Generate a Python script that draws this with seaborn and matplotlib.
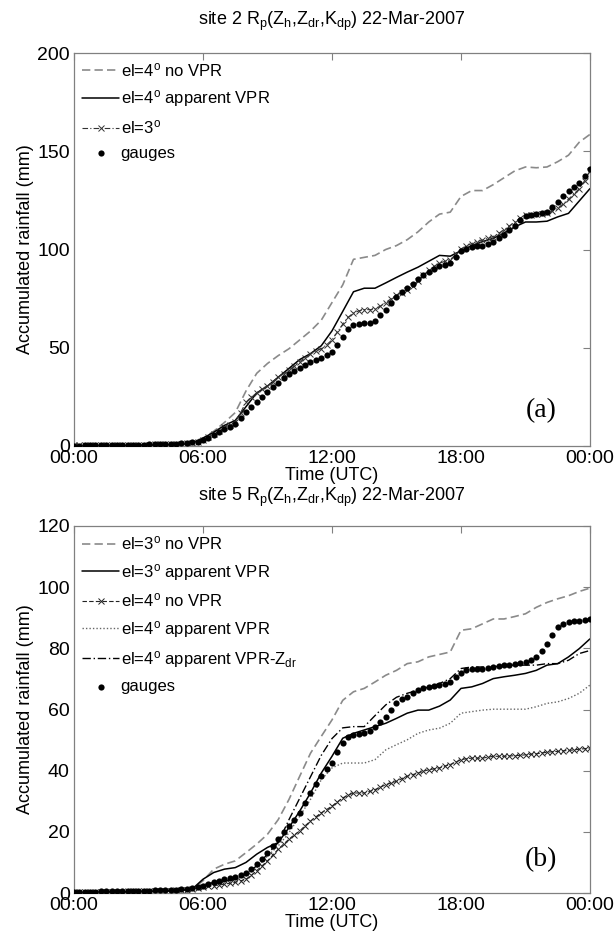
import numpy as np
import pandas as pd
import matplotlib
matplotlib.use('Agg')
import matplotlib.pyplot as plt
import seaborn as sns

# ── data (mm accumulated) ───────────────────────────────────
# lines sampled every 30 min, gauges and marker series every 15 min
t30 = np.arange(0, 24.01, 0.5)
t15 = np.arange(0, 24.01, 0.25)

# site 2
s2_novpr4 = [0.2, 0.2, 0.2, 0.3, 0.3, 0.3, 0.4, 0.5, 0.7, 0.9, 1.3, 2.2,
             4.0, 7.5, 12.0, 17.0, 28.0, 37.0, 42.0, 46.0, 49.5, 54.0, 58.5, 64.0,
             73.0, 82.0, 95.0, 96.0, 97.0, 100.0, 102.0, 105.0, 109.0, 114.0, 118.0, 119.0,
             127.0, 130.0, 130.0, 133.0, 136.5, 140.0, 142.0, 141.6, 142.0, 144.7, 148.0, 154.6,
             158.6]
s2_avpr4 = [0.2, 0.2, 0.2, 0.2, 0.3, 0.3, 0.3, 0.4, 0.5, 0.6, 0.8, 1.5,
            4.0, 7.0, 10.5, 13.0, 20.0, 27.0, 30.5, 35.0, 39.5, 44.0, 47.0, 51.0,
            58.6, 68.5, 78.5, 80.3, 80.3, 83.0, 85.8, 88.5, 91.0, 94.0, 97.0, 96.6,
            99.4, 102.0, 104.0, 105.7, 108.4, 111.5, 114.0, 114.0, 114.4, 116.6, 118.4, 124.7,
            131.0]
s2_el3 = [0.3, 0.3, 0.3, 0.3, 0.4, 0.4, 0.4, 0.4, 0.5, 0.5, 0.5, 0.5,
          0.6, 0.6, 0.7, 0.8, 0.9, 1.0, 1.0, 1.1, 1.2, 1.4, 1.7, 2.2,
          3.0, 4.5, 6.0, 7.5, 9.5, 10.8, 12.3, 17.0,
          22.3, 25.0, 27.0, 28.8, 30.5, 32.8, 35.0, 36.8,
          38.6, 40.8, 43.0, 45.0, 47.0, 48.3, 49.5, 51.5,
          54.0, 58.0, 62.0, 65.5, 67.6, 68.8, 69.4, 69.4,
          69.5, 71.2, 73.0, 75.0, 76.7, 78.0, 79.4, 81.6,
          84.0, 86.8, 89.4, 91.4, 93.0, 94.0, 94.8, 97.5,
          100.3, 101.8, 103.0, 104.0, 104.8, 105.7, 106.6, 108.2,
          110.0, 112.0, 114.0, 116.0, 117.5, 117.8, 118.0, 118.2,
          118.4, 119.5, 121.0, 123.2, 125.6, 128.2, 131.0, 135.0,
          140.0]
s2_gauges = [0.2, 0.2, 0.3, 0.3, 0.3, 0.4, 0.4, 0.4, 0.5, 0.5, 0.5, 0.6,
             0.6, 0.7, 0.8, 0.9, 1.0, 1.0, 1.1, 1.2, 1.3, 1.5, 1.8, 2.2,
             3.0, 4.2, 5.5, 7.0, 8.5, 9.6, 11.0, 14.0,
             17.5, 20.0, 22.5, 25.0, 27.7, 30.0, 32.3, 34.5,
             36.8, 38.3, 39.5, 41.2, 43.0, 44.0, 45.0, 46.5,
             48.0, 51.5, 55.5, 59.5, 61.8, 62.3, 62.5, 62.8,
             63.5, 66.5, 69.4, 72.6, 75.8, 78.2, 80.3, 82.6,
             84.9, 86.8, 88.5, 90.2, 91.6, 92.2, 93.0, 96.0,
             99.0, 100.3, 101.2, 101.6, 102.0, 103.0, 104.0, 105.8,
             107.5, 109.8, 112.0, 115.0, 117.2, 117.8, 118.0, 118.6,
             119.3, 121.5, 124.0, 127.2, 130.0, 132.0, 133.8, 137.5,
             141.0]

# site 5
s5_novpr3 = [0.2, 0.2, 0.3, 0.3, 0.4, 0.4, 0.5, 0.5, 0.6, 0.7, 0.9, 1.3,
             4.0, 7.8, 9.4, 10.5, 13.2, 16.0, 19.2, 24.0, 30.6, 38.2, 45.7, 51.2,
             56.6, 63.0, 65.8, 66.9, 69.0, 71.2, 72.8, 75.0, 75.6, 77.2, 78.0, 78.8,
             85.9, 86.4, 88.0, 89.6, 89.6, 90.4, 91.3, 93.4, 95.0, 96.2, 97.2, 98.6,
             99.7]
s5_avpr3 = [0.2, 0.2, 0.3, 0.3, 0.4, 0.4, 0.5, 0.5, 0.6, 0.7, 0.9, 1.3,
            4.5, 6.7, 7.8, 8.3, 10.0, 12.7, 14.9, 16.5, 21.4, 26.8, 32.7, 39.2,
            44.7, 50.6, 52.2, 53.3, 54.4, 55.5, 57.1, 58.8, 59.8, 59.8, 61.1, 63.1,
            66.9, 67.4, 68.5, 70.1, 70.7, 71.2, 71.8, 72.8, 74.5, 75.0, 77.2, 79.9,
            83.1]
s5_avpr4 = [0.2, 0.2, 0.3, 0.3, 0.4, 0.4, 0.5, 0.5, 0.6, 0.7, 0.9, 1.3,
            2.5, 3.5, 4.5, 4.5, 5.6, 8.3, 12.1, 15.4, 19.7, 25.1, 30.6, 37.0,
            40.9, 42.5, 42.5, 42.5, 43.6, 46.8, 48.5, 50.1, 52.2, 53.3, 53.9, 55.5,
            58.8, 59.3, 59.8, 60.1, 60.1, 60.1, 60.1, 60.9, 62.0, 62.5, 63.6, 65.3,
            68.0]
s5_zdr4 = [0.2, 0.2, 0.3, 0.3, 0.4, 0.4, 0.5, 0.5, 0.6, 0.7, 0.9, 1.3,
           2.5, 3.5, 4.0, 4.5, 6.2, 8.9, 12.7, 16.5, 24.0, 31.0, 38.0, 45.0,
           50.5, 54.0, 54.4, 54.4, 58.0, 61.5, 64.0, 65.3, 66.3, 67.4, 68.5, 70.1,
           73.4, 73.9, 73.9, 73.9, 74.5, 74.5, 74.5, 74.5, 75.0, 75.0, 76.1, 78.3,
           79.3]
s5_novpr4 = [0.2, 0.2, 0.2, 0.3, 0.3, 0.3, 0.3, 0.4, 0.4, 0.4, 0.5, 0.5,
             0.5, 0.6, 0.6, 0.7, 0.7, 0.8, 0.8, 0.9, 1.0, 1.1, 1.3, 1.6,
             2.0, 2.2, 2.4, 2.6, 2.9, 3.2, 3.5, 4.0,
             4.5, 5.8, 7.3, 8.9, 10.5, 12.4, 14.3, 16.0,
             17.6, 19.0, 20.3, 22.0, 23.5, 24.9, 26.2, 27.3,
             28.4, 29.8, 31.1, 32.0, 32.7, 32.7, 32.7, 33.2,
             33.8, 34.6, 35.4, 36.0, 36.5, 37.4, 38.2, 38.7,
             39.2, 39.8, 40.3, 40.6, 40.9, 41.5, 42.0, 42.8,
             43.6, 43.9, 44.1, 44.1, 44.1, 44.4, 44.7, 44.7,
             44.7, 44.8, 44.9, 45.0, 45.2, 45.4, 45.5, 45.8,
             46.0, 46.2, 46.3, 46.5, 46.6, 46.8, 47.0, 47.2,
             47.4]
s5_gauges = [0.3, 0.3, 0.4, 0.4, 0.4, 0.5, 0.5, 0.5, 0.6, 0.6, 0.6, 0.7,
             0.7, 0.8, 0.8, 0.9, 0.9, 1.0, 1.0, 1.1, 1.2, 1.3, 1.5, 1.9,
             2.4, 3.0, 3.5, 4.0, 4.5, 4.8, 5.1, 5.8,
             6.7, 8.0, 9.4, 11.2, 13.2, 15.5, 17.6, 19.8,
             21.9, 24.0, 26.2, 29.5, 32.7, 35.5, 38.2, 40.5,
             42.5, 46.0, 49.0, 51.0, 51.7, 52.0, 52.2, 53.0,
             54.4, 56.0, 57.7, 60.0, 62.0, 63.3, 64.2, 65.3,
             66.3, 66.9, 67.4, 67.7, 68.0, 68.5, 69.0, 70.5,
             71.8, 73.0, 73.4, 73.4, 73.4, 73.6, 73.9, 74.2,
             74.5, 74.7, 75.0, 75.3, 75.6, 76.3, 77.2, 79.0,
             81.5, 84.5, 86.9, 88.0, 88.6, 88.9, 89.1, 89.4,
             89.6]

tick_pos = [0, 6, 12, 18, 24]
tick_lab = ['00:00', '06:00', '12:00', '18:00', '00:00']

# ── style ────────────────────────────────────────────────────
sns.set_style('white')
plt.rcParams['font.family'] = ['Liberation Sans', 'DejaVu Sans']
plt.rcParams['mathtext.fontset'] = 'custom'
plt.rcParams['mathtext.rm'] = 'Liberation Sans'
plt.rcParams['mathtext.it'] = 'Liberation Sans:italic'
plt.rcParams['text.color'] = 'black'
plt.rcParams['axes.labelcolor'] = 'black'

GRAY = '#8a8a8a'
deg = r'$^\mathrm{o}$'

fig = plt.figure(figsize=(6.16, 9.41), dpi=100)
ax1 = fig.add_axes([0.1201, 1 - 446 / 941, 0.8377, 393 / 941])
ax2 = fig.add_axes([0.1201, 1 - 893 / 941, 0.8377, 367 / 941])


def add_markers(ax, col):
    # seaborn draws marker edges white by default, so redo them on the last line
    ln = ax.lines[-1]
    ln.set_marker('x')
    ln.set_markersize(4)
    ln.set_markeredgewidth(0.7)
    ln.set_markeredgecolor(col)
    ln.set_markerfacecolor(col)


# top panel
sns.lineplot(x=t30, y=s2_novpr4, ax=ax1, color=GRAY, lw=1.2,
             linestyle=(0, (5, 2.5)), label='el=4' + deg + ' no VPR')
sns.lineplot(x=t30, y=s2_avpr4, ax=ax1, color='black', lw=1.1,
             label='el=4' + deg + ' apparent VPR')
sns.lineplot(x=t15, y=s2_el3, ax=ax1, color='#333333', lw=0.8,
             linestyle=(0, (5, 2, 1, 2)), label='el=3' + deg)
add_markers(ax1, '#333333')
sns.scatterplot(x=t15, y=s2_gauges, ax=ax1, color='black', s=20,
                linewidth=0, label='gauges', zorder=5)

# bottom panel
sns.lineplot(x=t30, y=s5_novpr3, ax=ax2, color=GRAY, lw=1.2,
             linestyle=(0, (5, 2.5)), label='el=3' + deg + ' no VPR')
sns.lineplot(x=t30, y=s5_avpr3, ax=ax2, color='black', lw=1.1,
             label='el=3' + deg + ' apparent VPR')
sns.lineplot(x=t15, y=s5_novpr4, ax=ax2, color='#222222', lw=0.8,
             linestyle=(0, (4, 2)), label='el=4' + deg + ' no VPR')
add_markers(ax2, '#222222')
sns.lineplot(x=t30, y=s5_avpr4, ax=ax2, color='#666666', lw=1.0,
             linestyle=(0, (1, 1.5)), label='el=4' + deg + ' apparent VPR')
sns.lineplot(x=t30, y=s5_zdr4, ax=ax2, color='black', lw=1.0,
             linestyle=(0, (6, 2, 1, 2)),
             label='el=4' + deg + r' apparent VPR-Z$_\mathrm{dr}$')
sns.scatterplot(x=t15, y=s5_gauges, ax=ax2, color='black', s=20,
                linewidth=0, label='gauges', zorder=5)

titles = [r'site 2 R$_\mathrm{p}$(Z$_\mathrm{h}$,Z$_\mathrm{dr}$,K$_\mathrm{dp}$) 22-Mar-2007',
          r'site 5 R$_\mathrm{p}$(Z$_\mathrm{h}$,Z$_\mathrm{dr}$,K$_\mathrm{dp}$) 22-Mar-2007']
ylims = [(0, 200), (0, 120)]
yticks = [np.arange(0, 201, 50), np.arange(0, 121, 20)]
tags = ['(a)', '(b)']
title_pads = [20, 18]

for ax, title, yl, yt, tag, tp in zip([ax1, ax2], titles, ylims, yticks, tags, title_pads):
    ax.set_xlim(0, 24)
    ax.set_ylim(*yl)
    ax.set_xticks(tick_pos)
    ax.set_xticklabels(tick_lab)
    ax.set_yticks(yt)
    ax.tick_params(direction='in', length=5, width=0.8, color='#808080',
                   labelsize=14, labelcolor='black', top=True, right=True, pad=3)
    for sp in ax.spines.values():
        sp.set_color('#808080')
        sp.set_linewidth(0.9)
    ax.set_title(title, fontsize=13, pad=tp, color='black')
    ax.set_xlabel('Time (UTC)', fontsize=13, labelpad=0)
    ax.set_ylabel('Accumulated rainfall (mm)', fontsize=13, labelpad=2)
    ax.text(0.905, 0.09, tag, transform=ax.transAxes, ha='center', va='center',
            fontsize=20, family='Liberation Serif')
    ax.legend(loc='upper left', frameon=False, fontsize=12, handlelength=2.2,
              handletextpad=0.1, labelspacing=0.55, borderaxespad=0.3,
              borderpad=0.2, markerscale=1.0)

plt.savefig('out.png', dpi=100)
plt.close()
